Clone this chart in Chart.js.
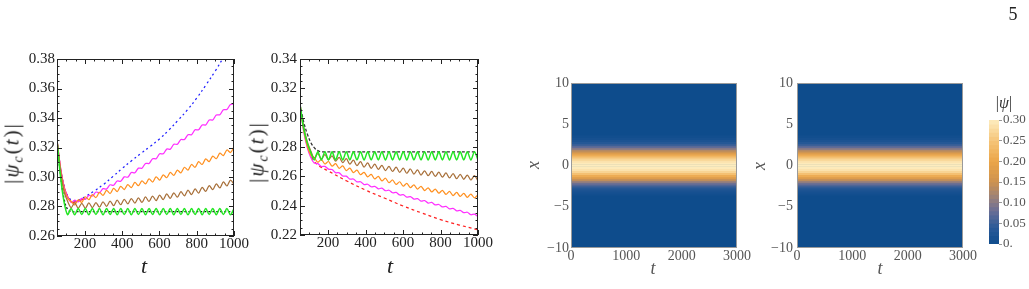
<!DOCTYPE html>
<html>
<head>
<meta charset="utf-8">
<script src="https://cdn.jsdelivr.net/npm/chart.js@4.4.1/dist/chart.umd.min.js"></script>
<style>
  html, body { margin: 0; padding: 0; background: #fff; }
  #page { position: relative; width: 1029px; height: 289px; overflow: hidden; font-family: "Liberation Serif", "DejaVu Serif", serif; color: #222; }
  canvas { position: absolute; }
  .lbl { position: absolute; transform: translate(-50%, -50%); white-space: nowrap; line-height: 1; }
  .rot { transform: translate(-50%, -50%) rotate(-90deg); }
  .sub { font-size: 0.68em; position: relative; top: 0.3em; }
  .gray { color: #555; }
</style>
</head>
<body>
<div id="page">
  <canvas id="left" width="250" height="249" style="left:0;top:40px"></canvas>
  <canvas id="right" width="250" height="249" style="left:250px;top:40px"></canvas>
  <canvas id="heat1" width="240" height="229" style="left:520px;top:60px"></canvas>
  <canvas id="heat2" width="220" height="229" style="left:760px;top:60px"></canvas>
  <canvas id="cbar" width="47" height="160" style="left:982px;top:95px"></canvas>

  <div class="lbl rot" style="left:12px;top:153px;font-size:21px;letter-spacing:2px">|<i>ψ</i><i class="sub">c</i>(<i>t</i>)|</div>
  <div class="lbl" style="left:144px;top:266px;font-size:22px"><i>t</i></div>
  <div class="lbl rot" style="left:257px;top:152px;font-size:21px;letter-spacing:2px">|<i>ψ</i><i class="sub">c</i>(<i>t</i>)|</div>
  <div class="lbl" style="left:390px;top:266px;font-size:22px"><i>t</i></div>
  <div class="lbl rot gray" style="left:533px;top:165px;font-size:18px"><i>x</i></div>
  <div class="lbl gray" style="left:653px;top:268px;font-size:18px"><i>t</i></div>
  <div class="lbl rot gray" style="left:759px;top:166px;font-size:18px"><i>x</i></div>
  <div class="lbl gray" style="left:880px;top:268px;font-size:18px"><i>t</i></div>
  <div class="lbl" style="left:1004px;top:103px;font-size:16px;color:#333">|<i>ψ</i>|</div>
  <div class="lbl" style="left:1013px;top:14px;font-size:18px">5</div>
</div>
<script>
// time samples shared by the oscillating curves
const tGrid = [50, 69, 88, 107, 126, 145, 164, 183, 202, 221, 240, 259, 278, 297, 316, 335, 354, 373, 392, 411,
  430, 449, 468, 487, 506, 525, 544, 563, 582, 601, 620, 639, 658, 677, 696, 715, 734, 753, 772, 791,
  810, 829, 848, 867, 886, 905, 924, 943, 962, 981, 1000];

// left panel
const leftGreen = [0.325, 0.300, 0.283, 0.2745, 0.2786, 0.2744, 0.2787, 0.2745, 0.2786, 0.2744,
  0.2787, 0.2745, 0.2786, 0.2744, 0.2786, 0.2745, 0.2787, 0.2744, 0.2786, 0.2745,
  0.2786, 0.2744, 0.2787, 0.2745, 0.2786, 0.2744, 0.2786, 0.2745, 0.2787, 0.2744,
  0.2786, 0.2745, 0.2786, 0.2744, 0.2787, 0.2745, 0.2786, 0.2744, 0.2786, 0.2745,
  0.2787, 0.2744, 0.2786, 0.2745, 0.2786, 0.2744, 0.2787, 0.2745, 0.2786, 0.2744, 0.2786];
const leftBrown = [0.324, 0.304, 0.290, 0.2835, 0.2793, 0.2825, 0.2789, 0.2822, 0.2788, 0.2824,
  0.2792, 0.2827, 0.2795, 0.2832, 0.2801, 0.2837, 0.2806, 0.2843, 0.2812, 0.2849,
  0.2818, 0.2854, 0.2823, 0.2859, 0.2828, 0.2865, 0.2834, 0.2871, 0.2840, 0.2877,
  0.2847, 0.2885, 0.2855, 0.2893, 0.2863, 0.2901, 0.2872, 0.2911, 0.2881, 0.2920,
  0.2891, 0.2930, 0.2902, 0.2942, 0.2914, 0.2954, 0.2926, 0.2967, 0.2939, 0.2979, 0.2951];
const leftOrange = [0.325, 0.305, 0.292, 0.2855, 0.2834, 0.2811, 0.2846, 0.2828, 0.2866, 0.2846,
  0.2881, 0.2861, 0.2896, 0.2875, 0.2909, 0.2888, 0.2923, 0.2901, 0.2936, 0.2915,
  0.2949, 0.2928, 0.2963, 0.2941, 0.2974, 0.2953, 0.2987, 0.2966, 0.3001, 0.2979,
  0.3015, 0.2995, 0.3031, 0.3011, 0.3047, 0.3028, 0.3066, 0.3047, 0.3085, 0.3066,
  0.3104, 0.3085, 0.3123, 0.3104, 0.3142, 0.3124, 0.3162, 0.3145, 0.3183, 0.3166, 0.3204];
const leftMagenta = [0.325, 0.306, 0.293, 0.2865, 0.2827, 0.2844, 0.2832, 0.2855, 0.2848, 0.2875,
  0.2871, 0.2898, 0.2893, 0.2921, 0.2918, 0.2947, 0.2944, 0.2973, 0.2971, 0.3001,
  0.2999, 0.3030, 0.3029, 0.3060, 0.3060, 0.3092, 0.3092, 0.3124, 0.3124, 0.3157,
  0.3157, 0.3189, 0.3189, 0.3222, 0.3222, 0.3254, 0.3254, 0.3287, 0.3287, 0.3320,
  0.3320, 0.3353, 0.3353, 0.3386, 0.3387, 0.3420, 0.3422, 0.3456, 0.3458, 0.3492, 0.3494];
const leftRed = [0.325, 0.306, 0.2935, 0.2868, 0.2832, 0.2829, 0.2836, 0.2846, 0.2857];
const leftBlueT = [50, 70, 90, 110, 130, 150, 175, 200, 250, 300, 350, 400, 450, 500, 550, 600, 650, 700, 750, 800, 850, 900, 950];
const leftBlue = [0.325, 0.305, 0.293, 0.2865, 0.2842, 0.2838, 0.2848, 0.2866, 0.2905, 0.2950, 0.3003, 0.3058,
  0.3110, 0.3160, 0.3207, 0.3258, 0.3318, 0.3385, 0.3455, 0.3535, 0.3625, 0.3720, 0.3825];
const leftBlackT = [50, 70, 90, 110, 130, 160, 1000];
const leftBlack = [0.325, 0.300, 0.284, 0.2775, 0.2765, 0.2765, 0.2765];

// right panel
const rightGreen = [0.309, 0.293, 0.283, 0.2765, 0.2712, 0.2768, 0.2711, 0.2768, 0.2712, 0.2767,
  0.2712, 0.2768, 0.2711, 0.2768, 0.2712, 0.2767, 0.2712, 0.2768, 0.2711, 0.2768,
  0.2712, 0.2767, 0.2712, 0.2768, 0.2711, 0.2768, 0.2712, 0.2767, 0.2712, 0.2768,
  0.2711, 0.2768, 0.2712, 0.2767, 0.2712, 0.2768, 0.2711, 0.2768, 0.2712, 0.2767,
  0.2712, 0.2768, 0.2711, 0.2768, 0.2712, 0.2767, 0.2712, 0.2768, 0.2711, 0.2768, 0.2712];
const rightBrown = [0.309, 0.294, 0.284, 0.2775, 0.2724, 0.2754, 0.2719, 0.2748, 0.2713, 0.2740,
  0.2703, 0.2730, 0.2693, 0.2720, 0.2683, 0.2710, 0.2673, 0.2700, 0.2663, 0.2691,
  0.2655, 0.2683, 0.2647, 0.2675, 0.2639, 0.2668, 0.2633, 0.2662, 0.2627, 0.2656,
  0.2621, 0.2650, 0.2615, 0.2644, 0.2609, 0.2638, 0.2604, 0.2633, 0.2599, 0.2628,
  0.2594, 0.2623, 0.2589, 0.2619, 0.2584, 0.2614, 0.2580, 0.2609, 0.2575, 0.2604, 0.2570];
const rightOrange = [0.309, 0.292, 0.281, 0.2745, 0.2727, 0.2696, 0.2714, 0.2684, 0.2701, 0.2669,
  0.2686, 0.2654, 0.2671, 0.2639, 0.2656, 0.2625, 0.2642, 0.2611, 0.2627, 0.2596,
  0.2613, 0.2582, 0.2600, 0.2569, 0.2587, 0.2557, 0.2575, 0.2545, 0.2563, 0.2533,
  0.2552, 0.2523, 0.2542, 0.2513, 0.2532, 0.2503, 0.2522, 0.2494, 0.2513, 0.2485,
  0.2505, 0.2477, 0.2497, 0.2469, 0.2490, 0.2463, 0.2484, 0.2457, 0.2479, 0.2453, 0.2475];
const rightMagenta = [0.309, 0.291, 0.280, 0.273, 0.2690, 0.2687, 0.2667, 0.2668, 0.2649, 0.2647,
  0.2625, 0.2624, 0.2602, 0.2601, 0.2581, 0.2582, 0.2562, 0.2563, 0.2544, 0.2546,
  0.2529, 0.2532, 0.2515, 0.2519, 0.2502, 0.2505, 0.2488, 0.2490, 0.2473, 0.2475,
  0.2458, 0.2462, 0.2445, 0.2448, 0.2431, 0.2435, 0.2418, 0.2422, 0.2405, 0.2408,
  0.2392, 0.2395, 0.2378, 0.2382, 0.2365, 0.2368, 0.2352, 0.2355, 0.2338, 0.2342, 0.2325];
const rightRedT = [50, 70, 90, 110, 130, 150, 200, 300, 400, 500, 600, 700, 800, 900, 1000];
const rightRed = [0.309, 0.292, 0.281, 0.2735, 0.2695, 0.2672, 0.2637, 0.2568, 0.2506, 0.2452, 0.2398, 0.2350, 0.2305, 0.2268, 0.2236];
const rightBlackT = [50, 70, 90, 110, 130, 150, 170, 1000];
const rightBlack = [0.309, 0.297, 0.2885, 0.2825, 0.2790, 0.2772, 0.2767, 0.2767];

// tick labels
const tTicks = [200, 400, 600, 800, 1000];
const leftYTicks = [0.26, 0.28, 0.30, 0.32, 0.34, 0.36, 0.38];
const rightYTicks = [0.22, 0.24, 0.26, 0.28, 0.30, 0.32, 0.34];
const heatTTicks = [0, 1000, 2000, 3000];
const heatXTicks = [-10, -5, 0, 5, 10];
const barTicks = [0, 0.05, 0.10, 0.15, 0.20, 0.25, 0.30];

// density plots: |psi| across x (constant along t)
const heatTime = [0, 3000];
const profileX = [-3.5, -3.25, -3, -2.75, -2.5, -2.25, -2, -1.75, -1.5, -1.25, -1, -0.75, -0.5, -0.25, 0,
  0.25, 0.5, 0.75, 1, 1.25, 1.5, 1.75, 2, 2.25, 2.5, 2.75, 3, 3.25, 3.5];
const profilePsi = [0.006, 0.012, 0.020, 0.033, 0.052, 0.076, 0.105, 0.140, 0.176, 0.212, 0.244, 0.270, 0.288, 0.297, 0.300,
  0.297, 0.288, 0.270, 0.244, 0.212, 0.176, 0.140, 0.105, 0.076, 0.052, 0.033, 0.020, 0.012, 0.006];
const barLevels = [0.005, 0.015, 0.025, 0.035, 0.045, 0.055, 0.065, 0.075, 0.085, 0.095,
  0.105, 0.115, 0.125, 0.135, 0.145, 0.155, 0.165, 0.175, 0.185, 0.195,
  0.205, 0.215, 0.225, 0.235, 0.245, 0.255, 0.265, 0.275, 0.285, 0.295];

const stops = [
  [0.00, [14, 76, 140]], [0.04, [42, 90, 152]], [0.08, [105, 110, 150]], [0.11, [150, 128, 125]],
  [0.15, [205, 146, 80]], [0.20, [235, 165, 72]], [0.25, [245, 196, 120]], [0.30, [253, 236, 190]]
];
const colorAt = v => {
  let i = 0;
  while (i < stops.length - 2 && v > stops[i + 1][0]) i++;
  const [a, ca] = stops[i], [b, cb] = stops[i + 1];
  const f = Math.max(0, Math.min(1, (v - a) / (b - a)));
  const c = ca.map((q, k) => Math.round(q + (cb[k] - q) * f));
  return `rgb(${c[0]},${c[1]},${c[2]})`;
};

Chart.defaults.font.family = '"Liberation Serif", "DejaVu Serif", serif';

const setTicks = arr => s => { s.ticks = arr.map(v => ({ value: v })); };

// Mathematica style frame with inward ticks
const framePlugin = {
  id: 'frame',
  afterDatasetsDraw(chart, args, opts) {
    const { ctx, chartArea: a, scales: { x, y } } = chart;
    ctx.save();
    ctx.strokeStyle = '#222';
    ctx.lineWidth = 1;
    ctx.strokeRect(Math.round(a.left) + 0.5, Math.round(a.top) + 0.5, Math.round(a.width) - 1, Math.round(a.height) - 1);
    ctx.beginPath();
    const xt = (v, len) => {
      const p = Math.round(x.getPixelForValue(v)) + 0.5;
      ctx.moveTo(p, a.bottom); ctx.lineTo(p, a.bottom - len);
      ctx.moveTo(p, a.top); ctx.lineTo(p, a.top + len);
    };
    const yt = (v, len) => {
      const p = Math.round(y.getPixelForValue(v)) + 0.5;
      ctx.moveTo(a.left, p); ctx.lineTo(a.left + len, p);
      ctx.moveTo(a.right, p); ctx.lineTo(a.right - len, p);
    };
    for (let v = Math.ceil(x.min / opts.xMinor) * opts.xMinor; v <= x.max; v += opts.xMinor) xt(v, 2.5);
    for (let k = Math.ceil(y.min / opts.yMinor - 1e-6); k * opts.yMinor <= y.max + 1e-9; k++) yt(k * opts.yMinor, 2.5);
    x.ticks.forEach(t => xt(t.value, 5));
    y.ticks.forEach(t => yt(t.value, 5));
    ctx.stroke();
    ctx.restore();
  }
};

const heatPlugin = {
  id: 'heatbg',
  beforeDatasetsDraw(chart) {
    const { ctx, chartArea: a } = chart;
    ctx.save();
    ctx.fillStyle = colorAt(0);
    ctx.fillRect(a.left, a.top, a.width, a.height);
    ctx.restore();
  },
  afterDatasetsDraw(chart) {
    const { ctx, chartArea: a } = chart;
    ctx.save();
    ctx.strokeStyle = '#9a9a9a';
    ctx.lineWidth = 1;
    ctx.strokeRect(Math.round(a.left) + 0.5, Math.round(a.top) + 0.5, Math.round(a.width) - 1, Math.round(a.height) - 1);
    ctx.restore();
  }
};

const pts = (ts, ys) => ys.map((y, i) => ({ x: ts[i], y }));
const curve = (ts, ys, color, dash, w) => ({
  data: pts(ts, ys), borderColor: color, borderWidth: w || 1.25, borderDash: dash || [],
  pointRadius: 0, tension: dash ? 0.4 : 0.3, fill: false, clip: 0
});

const tickFont = { size: 15, lineHeight: 1 };
const noGrid = { display: false, drawTicks: false };

const linePanel = (id, yw, xh, pad, yMin, yMax, yTicks, yPad, datasets) => new Chart(document.getElementById(id), {
  type: 'line',
  data: { datasets },
  options: {
    responsive: false, animation: false, devicePixelRatio: 1,
    layout: { padding: pad },
    plugins: { legend: { display: false }, tooltip: { enabled: false }, frame: { xMinor: 50, yMinor: 0.005 } },
    scales: {
      x: {
        type: 'linear', min: 50, max: 1000,
        afterBuildTicks: setTicks(tTicks), afterFit: s => { s.height = xh; },
        grid: noGrid, border: { display: false },
        ticks: { font: tickFont, color: '#222', padding: 1, maxRotation: 0, autoSkip: false, callback: v => String(v) }
      },
      y: {
        type: 'linear', min: yMin, max: yMax,
        afterBuildTicks: setTicks(yTicks), afterFit: s => { s.width = yw; },
        grid: noGrid, border: { display: false },
        ticks: { font: tickFont, color: '#222', padding: yPad, autoSkip: false, callback: v => v.toFixed(2) }
      }
    }
  },
  plugins: [framePlugin]
});

linePanel('left', 57, 53, { left: 0, right: 16, top: 19, bottom: 0 }, 0.26, 0.38, leftYTicks, 2, [
  curve(tGrid, leftGreen, '#22e622', null, 1.5),
  curve(tGrid, leftBrown, '#a8703a'),
  curve(tGrid, leftOrange, '#ff9020'),
  curve(tGrid, leftMagenta, '#ff30ff'),
  curve(tGrid, leftRed, '#ff2020'),
  curve(leftBlueT, leftBlue, '#2020ff', [2, 3]),
  curve(leftBlackT, leftBlack, '#111', [2, 2])
]);

linePanel('right', 50, 54, { left: 0, right: 22, top: 19, bottom: 0 }, 0.22, 0.34, rightYTicks, 3, [
  curve(tGrid, rightGreen, '#22e622', null, 1.5),
  curve(rightBlackT, rightBlack, '#333', [3, 2]),
  curve(tGrid, rightBrown, '#a8703a'),
  curve(tGrid, rightOrange, '#ff9020'),
  curve(tGrid, rightMagenta, '#ff30ff'),
  curve(rightRedT, rightRed, '#ff2020', [3, 3])
]);

const heatFont = { size: 14, lineHeight: 1 };
const heatPanel = (id, yw, pad, yPad) => new Chart(document.getElementById(id), {
  type: 'bar',
  data: {
    datasets: [{
      data: profileX.map((x, i) => ({ y: x, x: heatTime })),
      backgroundColor: profilePsi.map(colorAt),
      borderWidth: 0, barPercentage: 1.3, categoryPercentage: 1
    }]
  },
  options: {
    indexAxis: 'y', responsive: false, animation: false, devicePixelRatio: 1,
    layout: { padding: pad },
    plugins: { legend: { display: false }, tooltip: { enabled: false } },
    scales: {
      x: {
        type: 'linear', min: 0, max: 3000, offset: false,
        afterBuildTicks: setTicks(heatTTicks), afterFit: s => { s.height = 41; },
        grid: noGrid, border: { display: false },
        ticks: { font: heatFont, color: '#555', padding: 1, maxRotation: 0, autoSkip: false, callback: v => String(v) }
      },
      y: {
        type: 'linear', min: -10, max: 10, offset: false,
        afterBuildTicks: setTicks(heatXTicks), afterFit: s => { s.width = yw; },
        grid: noGrid, border: { display: false },
        ticks: { font: heatFont, color: '#555', padding: yPad, autoSkip: false, callback: v => (v < 0 ? '\u2212' + Math.abs(v) : String(v)) }
      }
    }
  },
  plugins: [heatPlugin]
});

heatPanel('heat1', 51, { left: 0, right: 23, top: 23, bottom: 0 }, 2);
heatPanel('heat2', 37, { left: 0, right: 17, top: 23, bottom: 0 }, 4);

new Chart(document.getElementById('cbar'), {
  type: 'bar',
  data: {
    datasets: [{
      data: barLevels.map(v => ({ y: v, x: [0, 1] })),
      backgroundColor: barLevels.map(colorAt),
      borderWidth: 0, barPercentage: 1.2, categoryPercentage: 1
    }]
  },
  options: {
    indexAxis: 'y', responsive: false, animation: false, devicePixelRatio: 1,
    layout: { padding: { left: 7, right: 0, top: 25, bottom: 11 } },
    plugins: { legend: { display: false }, tooltip: { enabled: false } },
    scales: {
      x: { type: 'linear', min: 0, max: 1, offset: false, display: false },
      y: {
        type: 'linear', position: 'right', min: 0, max: 0.3, offset: false,
        afterBuildTicks: setTicks(barTicks), afterFit: s => { s.width = 30; },
        grid: { drawOnChartArea: false, drawTicks: true, tickLength: 3, color: '#999', offset: false }, border: { display: false },
        ticks: { font: { size: 13, lineHeight: 1 }, color: '#555', padding: 1, autoSkip: false, callback: v => (v === 0 ? '0.' : v.toFixed(2)) }
      }
    }
  }
});
</script>
</body>
</html>
